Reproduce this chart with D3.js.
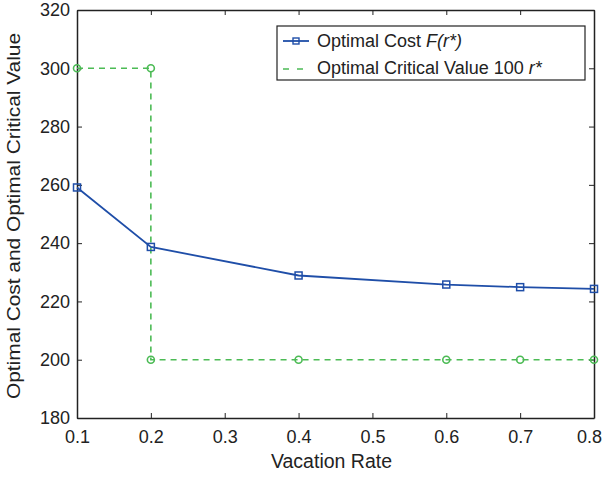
<!DOCTYPE html>
<html lang="en">
<head>
    <meta charset="UTF-8">
    <title>Optimal cost vs vacation rate</title>
    <style>
        body { margin: 0; background: #fff; }
        svg { display: block; font-family: "Liberation Sans", Arial, sans-serif; }
        .axis text { font-size: 18px; fill: #222; }
        .axis path, .axis line { stroke: #222; }
    </style>
</head>
<body>
    <div id="chart"></div>

    <script src="https://d3js.org/d3.v7.min.js"></script>
    <script>
        // data
        const costRates = [0.1, 0.2, 0.4, 0.6, 0.7, 0.8]
        const costValues = [259.1, 238.7, 228.9, 225.8, 224.9, 224.3]
        const criticalRates = [0.1, 0.2, 0.2, 0.4, 0.6, 0.7, 0.8]
        const criticalValues = [300, 300, 200, 200, 200, 200, 200]
        const xTicks = [0.1, 0.2, 0.3, 0.4, 0.5, 0.6, 0.7, 0.8]
        const yTicks = [180, 200, 220, 240, 260, 280, 300, 320]

        const width = 602
        const height = 477
        const margin = { top: 10, right: 8, bottom: 59, left: 77 }
        const blue = '#1f4ea8'
        const green = '#4cbb55'

        const x = d3.scaleLinear().domain([0.1, 0.8]).range([margin.left, width - margin.right])
        const y = d3.scaleLinear().domain([180, 320]).range([height - margin.bottom, margin.top])

        const svg = d3.select('#chart').append('svg')
            .attr('width', width)
            .attr('height', height)

        // axes, ticks pointing inward like matlab
        const xAxis = svg.append('g')
            .attr('class', 'axis')
            .attr('transform', `translate(0, ${y(180)})`)
            .call(d3.axisBottom(x).tickValues(xTicks).tickFormat(d3.format('.1f')).tickSizeInner(-5).tickSizeOuter(0).tickPadding(12))
        // last label sits on the window edge, pull it in a little
        xAxis.selectAll('.tick').filter(d => d === 0.8).select('text').attr('dx', -5)
        svg.append('g')
            .attr('class', 'axis')
            .attr('transform', `translate(0, ${y(320)})`)
            .call(d3.axisTop(x).tickValues(xTicks).tickFormat('').tickSizeInner(-5).tickSizeOuter(0))
        svg.append('g')
            .attr('class', 'axis')
            .attr('transform', `translate(${x(0.1)}, 0)`)
            .call(d3.axisLeft(y).tickValues(yTicks).tickSizeInner(-5).tickSizeOuter(0).tickPadding(7))
        svg.append('g')
            .attr('class', 'axis')
            .attr('transform', `translate(${x(0.8)}, 0)`)
            .call(d3.axisRight(y).tickValues(yTicks).tickFormat('').tickSizeInner(-5).tickSizeOuter(0))
        svg.selectAll('.axis path').attr('stroke-width', 1.5)

        // axis titles
        svg.append('text')
            .attr('x', (x(0.1) + x(0.8)) / 2 - 4)
            .attr('y', 468)
            .attr('text-anchor', 'middle')
            .attr('font-size', 19.5)
            .attr('fill', '#222')
            .text('Vacation Rate')
        svg.append('text')
            .attr('transform', 'translate(20, 216) rotate(-90)')
            .attr('text-anchor', 'middle')
            .attr('font-size', 18)
            .attr('textLength', 366)
            .attr('lengthAdjust', 'spacingAndGlyphs')
            .attr('fill', '#222')
            .text('Optimal Cost and Optimal Critical Value')

        const line = d3.line().x(d => x(d[0])).y(d => y(d[1]))

        // critical value, green dashed
        const critical = criticalRates.map((r, i) => [r, criticalValues[i]])
        svg.append('path')
            .datum(critical)
            .attr('fill', 'none')
            .attr('stroke', green)
            .attr('stroke-width', 1.6)
            .attr('stroke-dasharray', '6,5')
            .attr('d', line)
        svg.append('g').selectAll('circle')
            .data(critical)
            .join('circle')
            .attr('cx', d => x(d[0]))
            .attr('cy', d => y(d[1]))
            .attr('r', 3.5)
            .attr('fill', 'none')
            .attr('stroke', green)
            .attr('stroke-width', 1.6)

        // optimal cost, blue solid with squares
        const cost = costRates.map((r, i) => [r, costValues[i]])
        svg.append('path')
            .datum(cost)
            .attr('fill', 'none')
            .attr('stroke', blue)
            .attr('stroke-width', 1.8)
            .attr('d', line)
        svg.append('g').selectAll('rect')
            .data(cost)
            .join('rect')
            .attr('x', d => x(d[0]) - 3.5)
            .attr('y', d => y(d[1]) - 3.5)
            .attr('width', 7)
            .attr('height', 7)
            .attr('fill', 'none')
            .attr('stroke', blue)
            .attr('stroke-width', 1.5)

        // legend
        const legend = svg.append('g').attr('transform', 'translate(277, 26)')
        legend.append('rect')
            .attr('width', 308)
            .attr('height', 54)
            .attr('fill', '#fff')
            .attr('stroke', '#222')
            .attr('stroke-width', 1.2)

        legend.append('line')
            .attr('x1', 6).attr('x2', 32).attr('y1', 15).attr('y2', 15)
            .attr('stroke', blue).attr('stroke-width', 1.8)
        legend.append('rect')
            .attr('x', 16).attr('y', 12).attr('width', 6).attr('height', 6)
            .attr('fill', 'none').attr('stroke', blue).attr('stroke-width', 1.4)
        const t1 = legend.append('text')
            .attr('x', 40).attr('y', 21)
            .attr('font-size', 18).attr('fill', '#222')
        t1.append('tspan').text('Optimal Cost ')
        t1.append('tspan').attr('font-style', 'italic').text('F(r*)')

        legend.append('line')
            .attr('x1', 6).attr('x2', 32).attr('y1', 43).attr('y2', 43)
            .attr('stroke', green).attr('stroke-width', 1.6)
            .attr('stroke-dasharray', '6,8')
        const t2 = legend.append('text')
            .attr('x', 40).attr('y', 48)
            .attr('font-size', 18).attr('fill', '#222')
        t2.append('tspan').text('Optimal Critical Value 100 ')
        t2.append('tspan').attr('font-style', 'italic').text('r*')
    </script>
</body>
</html>
